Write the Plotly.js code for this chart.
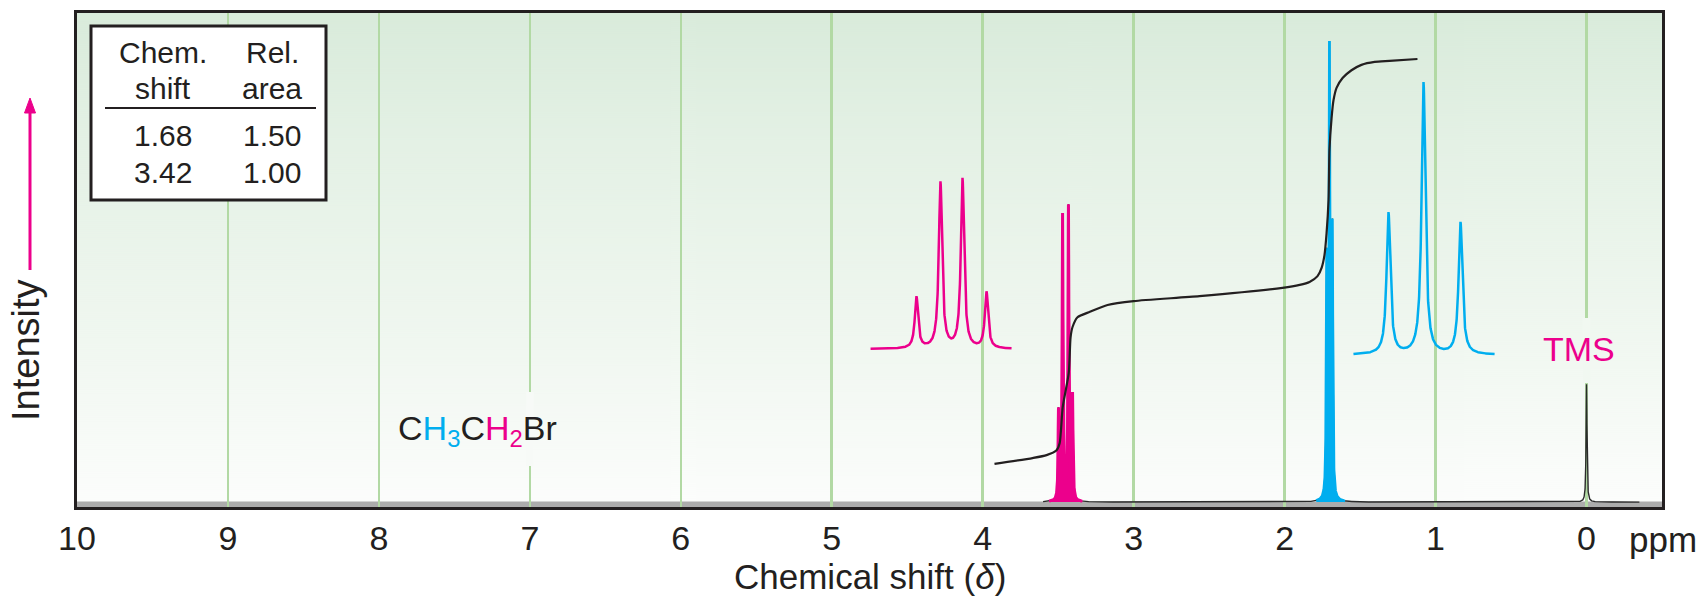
<!DOCTYPE html>
<html><head><meta charset="utf-8">
<script src="https://cdn.plot.ly/plotly-3.0.1.min.js"></script>
<style>html,body{margin:0;padding:0;background:#fff}#chart{width:1700px;height:596px}</style>
</head><body><div id="chart"></div>
<script>
// ---------- data ----------
const tickValues = [10, 9, 8, 7, 6, 5, 4, 3, 2, 1, 0];
const tickLabels = ['10', '9', '8', '7', '6', '5', '4', '3', '2', '1', '0'];

// main CH2 quartet (ppm, peak intensity)
const ch2Shifts  = [3.498, 3.471, 3.432, 3.405];
const ch2Heights = [19.4, 59.1, 60.9, 22.5];
// main CH3 triplet
const ch3Shifts  = [1.721, 1.703, 1.684];
const ch3Heights = [52.0, 94.3, 58.0];
// TMS reference
const tmsShifts  = [0.0];
const tmsHeights = [24.1];

// expanded insets (display positions on the ppm axis)
const ch2InsetShifts  = [4.439, 4.280, 4.134, 3.975];
const ch2InsetHeights = [10.8, 34.3, 35.0, 11.8];
const ch2InsetBase    = 31.3;
const ch2InsetSpan    = [4.743, 3.809];
const ch3InsetShifts  = [1.312, 1.080, 0.835];
const ch3InsetHeights = [29.2, 55.8, 27.2];
const ch3InsetBase    = 30.1;
const ch3InsetSpan    = [1.544, 0.609];

// integral trace
const integralPpm = [3.922, 3.67, 3.577, 3.511, 3.49, 3.47, 3.43, 3.418, 3.405, 3.372, 3.29, 3.173, 3.0, 2.564, 2.014, 1.90, 1.835, 1.782, 1.755, 1.736, 1.722, 1.709, 1.703, 1.689, 1.676, 1.656, 1.616, 1.557, 1.491, 1.404, 1.305, 1.12];
const integralVal = [7.8, 9.0, 9.6, 10.6, 12.1, 19.4, 26.4, 33.7, 35.8, 37.8, 38.9, 40.3, 41.1, 42.1, 43.8, 44.4, 45.0, 46.2, 47.9, 50.5, 55.0, 61.8, 72.0, 78.5, 82.2, 84.7, 86.7, 88.3, 89.4, 90.0, 90.2, 90.6];

// table
const tableHeadShift = ['Chem.', 'shift'];
const tableHeadArea  = ['Rel.', 'area'];
const tableShift = ['1.68', '3.42'];
const tableArea  = ['1.50', '1.00'];

// ---------- helpers ----------
const PINK = '#ec008c', BLUE = '#00aeef', INK = '#231f20';
const FONT = 'Liberation Sans, Arial, Helvetica, sans-serif';
function grid(a, b, step) { const o = []; const n = Math.round(Math.abs(a - b) / step); for (let i = 0; i <= n; i++) o.push(a - i * step * Math.sign(a - b)); return o; }
const lor = (d, hw) => 1 / (1 + (d / hw) * (d / hw));
// amplitudes so that the summed line shape reaches each read peak height at its centre
function amps(centers, heights, hw) {
  const n = centers.length;
  const M = centers.map((ci, i) => centers.map(cj => lor(ci - cj, hw)).concat([heights[i]]));
  for (let c = 0; c < n; c++) {
    for (let r = c + 1; r < n; r++) { const f = M[r][c] / M[c][c]; for (let k = c; k <= n; k++) M[r][k] -= f * M[c][k]; }
  }
  const a = new Array(n).fill(0);
  for (let r = n - 1; r >= 0; r--) { let s = M[r][n]; for (let k = r + 1; k < n; k++) s -= M[r][k] * a[k]; a[r] = s / M[r][r]; }
  return a;
}
function lineShape(xs, centers, heights, hw, base) {
  const a = amps(centers, heights, hw);
  return xs.map(x => { let s = base; for (let i = 0; i < centers.length; i++) s += a[i] * lor(x - centers[i], hw); return s; });
}
const px = v => (v - 77) / 1585;   // pixel -> paper (layout placement only)
const py = v => (507 - v) / 494;

// background gradient image
const cv = document.createElement('canvas'); cv.width = 4; cv.height = 494;
const cx = cv.getContext('2d');
const gr = cx.createLinearGradient(0, 0, 0, 494);
gr.addColorStop(0, '#d9ebdb'); gr.addColorStop(0.26, '#e4f1e5'); gr.addColorStop(0.66, '#f0f7f0'); gr.addColorStop(1, '#fcfdfc');
cx.fillStyle = gr; cx.fillRect(0, 0, 4, 494);
const gradURL = cv.toDataURL('image/png');
function bgAt(pyPix) { const d = cx.getImageData(1, Math.max(0, Math.min(493, Math.round(pyPix - 13))), 1, 1).data; return 'rgb(' + d[0] + ',' + d[1] + ',' + d[2] + ')'; }

// ---------- traces ----------
const HW = 0.0035;
const xMain = grid(3.60, -0.35, 0.0005);
const xPink = grid(3.56, 3.34, 0.0005);
const xBlue = grid(1.79, 1.60, 0.0005);
const xIn2 = grid(ch2InsetSpan[0], ch2InsetSpan[1], 0.001);
const xIn3 = grid(ch3InsetSpan[0], ch3InsetSpan[1], 0.001);
const yPinkMain = lineShape(xMain, ch2Shifts, ch2Heights, HW, 0);
const yBlueMain = lineShape(xMain, ch3Shifts, ch3Heights, HW, 0);
const yTmsMain  = lineShape(xMain, tmsShifts, tmsHeights, HW, 0);
const yAll = xMain.map((x, i) => yPinkMain[i] + yBlueMain[i] + yTmsMain[i]);

const traces = [
  { x: xMain, y: yAll, mode: 'lines', line: { color: '#2b2b2b', width: 1.4 }, hoverinfo: 'skip' },
  { x: xPink, y: lineShape(xPink, ch2Shifts, ch2Heights, HW, 0), mode: 'lines', fill: 'tozeroy', fillcolor: PINK, line: { color: PINK, width: 3 }, hoverinfo: 'skip' },
  { x: xBlue, y: lineShape(xBlue, ch3Shifts, ch3Heights, HW, 0), mode: 'lines', fill: 'tozeroy', fillcolor: BLUE, line: { color: BLUE, width: 2.8 }, hoverinfo: 'skip' },
  { x: xIn2, y: lineShape(xIn2, ch2InsetShifts, ch2InsetHeights, 0.013, ch2InsetBase), mode: 'lines', line: { color: PINK, width: 2.5 }, hoverinfo: 'skip' },
  { x: xIn3, y: lineShape(xIn3, ch3InsetShifts, ch3InsetHeights, 0.015, ch3InsetBase), mode: 'lines', line: { color: BLUE, width: 2.5 }, hoverinfo: 'skip' },
  { x: integralPpm, y: integralVal, mode: 'lines', line: { color: INK, width: 2.2, shape: 'spline', smoothing: 0.6 }, hoverinfo: 'skip' }
];

// ---------- annotations ----------
const ann = [];
const tf = { family: FONT, size: 30, color: INK };
const rowsY = [52, 88, 135, 172];
[tableHeadShift[0], tableHeadShift[1], tableShift[0], tableShift[1]].forEach((t, i) => ann.push({ text: t, xref: 'paper', yref: 'paper', x: px(163), y: py(rowsY[i]), showarrow: false, font: tf, xanchor: 'center', yanchor: 'middle' }));
[tableHeadArea[0], tableHeadArea[1], tableArea[0], tableArea[1]].forEach((t, i) => ann.push({ text: t, xref: 'paper', yref: 'paper', x: px(272), y: py(rowsY[i]), showarrow: false, font: tf, xanchor: 'center', yanchor: 'middle' }));

ann.push({ text: 'C<span style="color:' + BLUE + '">H<sub>3</sub></span>C<span style="color:' + PINK + '">H<sub>2</sub></span>Br',
  xref: 'paper', yref: 'paper', x: px(477), y: py(430), showarrow: false, font: { family: FONT, size: 34, color: INK }, xanchor: 'center', yanchor: 'middle' });
ann.push({ text: 'TMS', xref: 'paper', yref: 'paper', x: px(1579), y: py(349), showarrow: false, font: { family: FONT, size: 34, color: PINK }, xanchor: 'center', yanchor: 'middle' });
ann.push({ text: 'Intensity', xref: 'paper', yref: 'paper', x: px(26), y: py(350), showarrow: false, textangle: -90, font: { family: FONT, size: 38, color: INK }, xanchor: 'center', yanchor: 'middle' });
ann.push({ text: 'Chemical shift (<i>δ</i>)', xref: 'paper', yref: 'paper', x: px(870), y: py(576), showarrow: false, font: { family: FONT, size: 35, color: INK }, xanchor: 'center', yanchor: 'middle' });
ann.push({ text: 'ppm', xref: 'paper', yref: 'paper', x: px(1627), y: py(539), showarrow: false, font: { family: FONT, size: 35, color: INK }, xanchor: 'left', yanchor: 'middle' });

// small background patches where the labels interrupt the grid lines
function gapPatch(ppm, yTop, yBot) {
  return { type: 'rect', xref: 'x', yref: 'paper', x0: ppm + 0.025, x1: ppm - 0.025, y0: py(yBot), y1: py(yTop), fillcolor: bgAt((yTop + yBot) / 2), line: { width: 0 }, layer: 'above' };
}

const layout = {
  width: 1700, height: 596,
  margin: { l: 77, r: 38, t: 13, b: 89, pad: 0 },
  paper_bgcolor: '#ffffff', plot_bgcolor: '#ffffff', showlegend: false,
  xaxis: { range: [10, -0.5], tickvals: tickValues, ticktext: tickLabels, showgrid: true, gridcolor: '#b2d9a4', gridwidth: 2.6,
    zeroline: false, showline: true, mirror: true, linecolor: INK, linewidth: 3, ticks: '', ticklabelstandoff: -1,
    tickfont: { family: FONT, size: 34, color: INK } },
  yaxis: { range: [-1, 100], showgrid: false, zeroline: false, showticklabels: false, showline: true, mirror: true, linecolor: INK, linewidth: 3, ticks: '' },
  images: [{ source: gradURL, xref: 'paper', yref: 'paper', x: 0, y: 1, sizex: 1, sizey: 1, sizing: 'stretch', xanchor: 'left', yanchor: 'top', layer: 'below' }],
  shapes: [
    { type: 'rect', xref: 'paper', yref: 'y', x0: 0, x1: 1, y0: -1, y1: 0.1, fillcolor: '#acacac', line: { width: 0 }, layer: 'below' },
    gapPatch(7, 392, 466),
    gapPatch(0, 318, 383),
    { type: 'rect', xref: 'paper', yref: 'paper', x0: px(91), x1: px(326), y0: py(200), y1: py(26), fillcolor: '#ffffff', line: { color: INK, width: 3 }, layer: 'above' },
    { type: 'line', xref: 'paper', yref: 'paper', x0: px(105), x1: px(316), y0: py(108), y1: py(108), line: { color: INK, width: 2 }, layer: 'above' },
    // "Intensity" arrow
    { type: 'line', xref: 'paper', yref: 'paper', x0: px(30), x1: px(30), y0: py(270), y1: py(110), line: { color: PINK, width: 3 }, layer: 'above' },
    { type: 'path', xref: 'paper', yref: 'paper', path: 'M ' + px(30) + ' ' + py(98) + ' L ' + px(24.5) + ' ' + py(113) + ' L ' + px(35.5) + ' ' + py(113) + ' Z', fillcolor: PINK, line: { color: PINK, width: 1 }, layer: 'above' }
  ],
  annotations: ann
};
Plotly.newPlot('chart', traces, layout, { staticPlot: true, displayModeBar: false });
</script></body></html>
